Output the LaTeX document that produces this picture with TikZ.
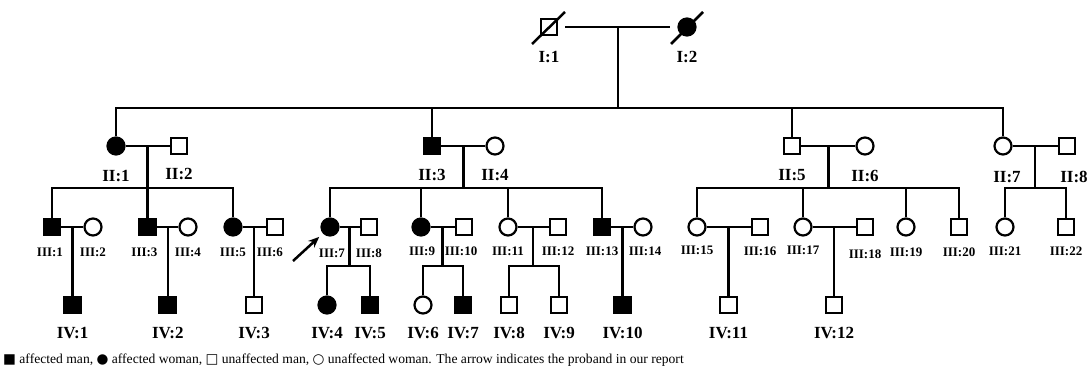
\documentclass[tikz,border=0pt]{standalone}
\usepackage{fontspec}
\setmainfont{Liberation Serif}
\newfontfamily\symfont{DejaVu Sans}
\usetikzlibrary{calc,positioning,arrows.meta}
\tikzset{
  man/.style={draw, rectangle, line width=2.2pt, minimum size=16.5pt, inner sep=0},
  woman/.style={draw, circle, line width=2.2pt, minimum size=17pt, inner sep=0},
  aff/.style={fill=black},
  link/.style={line width=2.5pt},
  gen/.style={font=\fontsize{17}{17}\selectfont\bfseries, inner sep=0},
  genthree/.style={font=\fontsize{13}{13}\selectfont\bfseries, inner sep=0},
  probarrow/.style={line width=2.5pt, -{Stealth[length=11pt,width=9pt]}},
}

\begin{document}
\begin{tikzpicture}[x=1pt,y=-1pt]
\useasboundingbox (0,0) rectangle (1088,371);

% generation I
\node[man] (I1) at (549,27) {};
\node[woman,aff] (I2) at (687,27) {};
\draw[link] ($(I1)+(-17,17)$) -- ($(I1)+(16,-15)$);
\draw[link] ($(I2)+(-16,17)$) -- ($(I2)+(16,-15)$);
\node[gen] (lI1) at ($(I1)+(0,30)$) {I:1};
\node[gen] (lI2) at ($(I2)+(0,30)$) {I:2};

% generation II
\node[woman,aff] (II1) at (116,146) {};
\node[man] (II2) at (179,146) {};
\node[man,aff] (II3) at (432,146) {};
\node[woman] (II4) at (495,146) {};
\node[man] (II5) at (792,146) {};
\node[woman] (II6) at (865,146) {};
\node[woman] (II7) at (1003,146) {};
\node[man] (II8) at (1067,146) {};
\node[gen] (lII1) at ($(II1)+(0,30)$) {II:1};
\node[gen] (lII2) at ($(II2)+(0,28)$) {II:2};
\node[gen] (lII3) at ($(II3)+(0,29)$) {II:3};
\node[gen] (lII4) at ($(II4)+(0,29)$) {II:4};
\node[gen] (lII5) at ($(II5)+(0,29)$) {II:5};
\node[gen] (lII6) at ($(II6)+(0,30)$) {II:6};
\node[gen] (lII7) at ($(II7)+(4,31)$) {II:7};
\node[gen] (lII8) at ($(II8)+(7,31)$) {II:8};

% generation III
\node[man,aff] (III1) at (52,227) {};
\node[woman] (III2) at (93,227) {};
\node[man,aff] (III3) at (147.5,227) {};
\node[woman] (III4) at (188,227) {};
\node[woman,aff] (III5) at (233,227) {};
\node[man] (III6) at (275,227) {};
\node[woman,aff] (III7) at (330,227) {};
\node[man] (III8) at (369,227) {};
\node[woman,aff] (III9) at (421,227) {};
\node[man] (III10) at (464,227) {};
\node[woman] (III11) at (508,227) {};
\node[man] (III12) at (558,227) {};
\node[man,aff] (III13) at (602,227) {};
\node[woman] (III14) at (643,227) {};
\node[woman] (III15) at (697,227) {};
\node[man] (III16) at (760,227) {};
\node[woman] (III17) at (803,227) {};
\node[man] (III18) at (865,227) {};
\node[woman] (III19) at (906,227) {};
\node[man] (III20) at (959,227) {};
\node[woman] (III21) at (1005,227) {};
\node[man] (III22) at (1066,227) {};
\node[genthree] (lIII1) at ($(III1)+(-2,25)$) {III:1};
\node[genthree] (lIII2) at ($(III2)+(0,25)$) {III:2};
\node[genthree] (lIII3) at ($(III3)+(-3,25)$) {III:3};
\node[genthree] (lIII4) at ($(III4)+(0,25)$) {III:4};
\node[genthree] (lIII5) at ($(III5)+(0,25)$) {III:5};
\node[genthree] (lIII6) at ($(III6)+(-5,25)$) {III:6};
\node[genthree] (lIII7) at ($(III7)+(2,26)$) {III:7};
\node[genthree] (lIII8) at ($(III8)+(0,26)$) {III:8};
\node[genthree] (lIII9) at ($(III9)+(1,24)$) {III:9};
\node[genthree] (lIII10) at ($(III10)+(-3,24)$) {III:10};
\node[genthree] (lIII11) at ($(III11)+(0,24)$) {III:11};
\node[genthree] (lIII12) at ($(III12)+(0,24)$) {III:12};
\node[genthree] (lIII13) at ($(III13)+(0,24)$) {III:13};
\node[genthree] (lIII14) at ($(III14)+(2,24)$) {III:14};
\node[genthree] (lIII15) at ($(III15)+(0,23)$) {III:15};
\node[genthree] (lIII16) at ($(III16)+(0,24)$) {III:16};
\node[genthree] (lIII17) at ($(III17)+(0,23)$) {III:17};
\node[genthree] (lIII18) at ($(III18)+(0,27)$) {III:18};
\node[genthree] (lIII19) at ($(III19)+(0,25)$) {III:19};
\node[genthree] (lIII20) at ($(III20)+(0,25)$) {III:20};
\node[genthree] (lIII21) at ($(III21)+(0,24)$) {III:21};
\node[genthree] (lIII22) at ($(III22)+(0,24)$) {III:22};

% marriages and sibships, I -> II
\draw[link, shorten <=7pt, shorten >=7pt] (I1) -- (I2);
\coordinate (m1) at ($(I1)!0.5!(I2)$);
\coordinate (s1) at ($(m1)+(0,81)$);
\draw[link] (m1) -- (s1);
\draw[link] (II1) |- (s1) -| (II7);
\draw[link] (II3) -- (II3 |- s1);
\draw[link] (II5) -- (II5 |- s1);

% II -> III
\draw[link] (II1) -- (II2);
\coordinate (m21) at ($(II1)!0.5!(II2)$);
\coordinate (s21) at ($(m21)+(0,42)$);
\draw[link] (m21) -- (III3);
\draw[link] (III1) |- (s21) -| (III5);

\draw[link] (II3) -- (II4);
\coordinate (m22) at ($(II3)!0.5!(II4)$);
\coordinate (s22) at ($(m22)+(0,42)$);
\draw[link] (m22) -- (s22);
\draw[link] (III7) |- (s22) -| (III13);
\draw[link] (III9) -- (III9 |- s22);
\draw[link] (III11) -- (III11 |- s22);

\draw[link] (II5) -- (II6);
\coordinate (m23) at ($(II5)!0.5!(II6)$);
\coordinate (s23) at ($(m23)+(0,42)$);
\draw[link] (m23) -- (s23);
\draw[link] (III15) |- (s23) -| (III20);
\draw[link] (III17) -- (III17 |- s23);
\draw[link] (III19) -- (III19 |- s23);

\draw[link] (II7) -- (II8);
\coordinate (m24) at ($(II7)!0.5!(II8)$);
\coordinate (s24) at ($(m24)+(0,42)$);
\draw[link] (m24) -- (s24);
\draw[link] (III21) |- (s24) -| (III22);

% III -> IV
\draw[link] (III1) -- (III2);
\coordinate (m31) at ($(III1)!0.5!(III2)$);
\node[man,aff] (IV1) at ($(m31)+(0,78)$) {};
\draw[link] (m31) -- (IV1);

\draw[link] (III3) -- (III4);
\coordinate (m32) at ($(III3)!0.5!(III4)$);
\node[man,aff] (IV2) at ($(m32)+(0,78)$) {};
\draw[link] (m32) -- (IV2);

\draw[link] (III5) -- (III6);
\coordinate (m33) at ($(III5)!0.5!(III6)$);
\node[man] (IV3) at ($(m33)+(0,78)$) {};
\draw[link] (m33) -- (IV3);

\draw[link] (III7) -- (III8);
\coordinate (m34) at ($(III7)!0.5!(III8)$);
\coordinate (s34) at ($(m34)+(0,39)$);
\node[woman,aff] (IV4) at (327,305) {};
\node[man,aff] (IV5) at (370,305) {};
\draw[link] (m34) -- (s34);
\draw[link] (IV4) |- (s34) -| (IV5);

\draw[link] (III9) -- (III10);
\coordinate (m35) at ($(III9)!0.5!(III10)$);
\coordinate (s35) at ($(m35)+(0,39)$);
\node[woman] (IV6) at (423,305) {};
\node[man,aff] (IV7) at (463,305) {};
\draw[link] (m35) -- (s35);
\draw[link] (IV6) |- (s35) -| (IV7);

\draw[link] (III11) -- (III12);
\coordinate (m36) at ($(III11)!0.5!(III12)$);
\coordinate (s36) at ($(m36)+(0,39)$);
\node[man] (IV8) at (509,305) {};
\node[man] (IV9) at (559,305) {};
\draw[link] (m36) -- (s36);
\draw[link] (IV8) |- (s36) -| (IV9);

\draw[link] (III13) -- (III14);
\coordinate (m37) at ($(III13)!0.5!(III14)$);
\node[man,aff] (IV10) at ($(m37)+(0,78)$) {};
\draw[link] (m37) -- (IV10);

\draw[link] (III15) -- (III16);
\coordinate (m38) at ($(III15)!0.5!(III16)$);
\node[man] (IV11) at ($(m38)+(0,78)$) {};
\draw[link] (m38) -- (IV11);

\draw[link] (III17) -- (III18);
\coordinate (m39) at ($(III17)!0.5!(III18)$);
\node[man] (IV12) at ($(m39)+(0,78)$) {};
\draw[link] (m39) -- (IV12);

% generation IV labels
\node[gen] (lIV1) at ($(IV1)+(0,28)$) {IV:1};
\node[gen] (lIV2) at ($(IV2)+(0,28)$) {IV:2};
\node[gen] (lIV3) at ($(IV3)+(0,28)$) {IV:3};
\node[gen] (lIV4) at ($(IV4)+(0,28)$) {IV:4};
\node[gen] (lIV5) at ($(IV5)+(0,28)$) {IV:5};
\node[gen] (lIV6) at ($(IV6)+(0,28)$) {IV:6};
\node[gen] (lIV7) at ($(IV7)+(0,28)$) {IV:7};
\node[gen] (lIV8) at ($(IV8)+(0,28)$) {IV:8};
\node[gen] (lIV9) at ($(IV9)+(0,28)$) {IV:9};
\node[gen] (lIV10) at ($(IV10)+(0,28)$) {IV:10};
\node[gen] (lIV11) at ($(IV11)+(0,28)$) {IV:11};
\node[gen] (lIV12) at ($(IV12)+(0,28)$) {IV:12};

% proband
\coordinate (ptail) at (293,261);
\draw[probarrow, shorten >=5pt] (ptail) -- (III7);

% key
\node[anchor=west, inner sep=0, font=\fontsize{13.6}{14}\selectfont] (key) at (3,360)
  {{\symfont ■} affected man, {\symfont ●} affected woman, {\symfont\bfseries □} unaffected man, {\symfont\bfseries ○} unaffected woman. The arrow indicates the proband in our report};
\end{tikzpicture}
\end{document}
